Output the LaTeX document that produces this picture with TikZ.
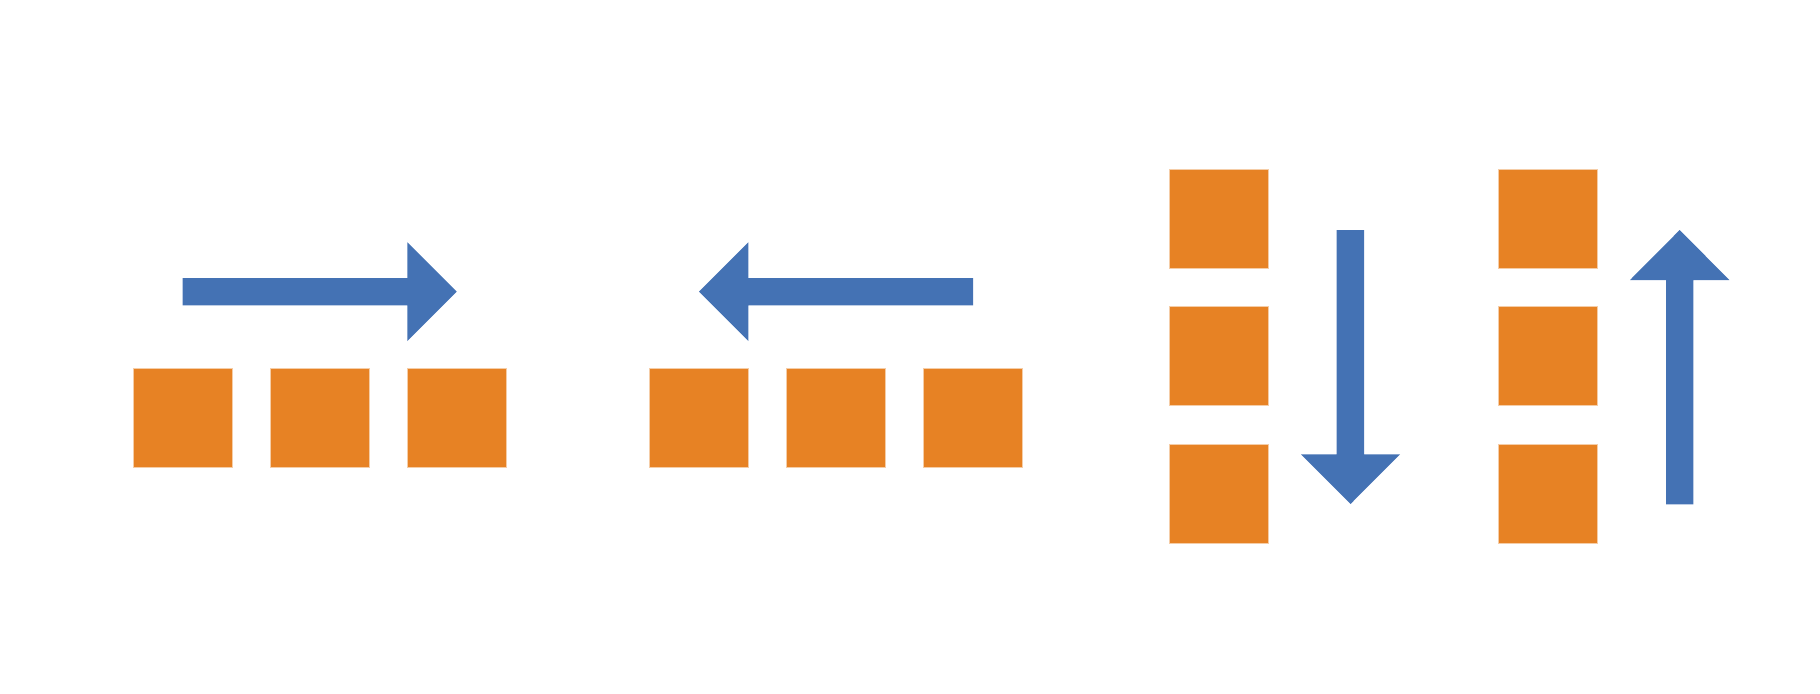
\documentclass[tikz,border=0pt]{standalone}
\begin{document}
\begin{tikzpicture}[x=0.01cm,y=-0.01cm,
  box/.style={fill=boxorange,draw=boxorange!40,line width=0.4pt,minimum size=0.99cm,inner sep=0pt,outer sep=0pt},
  blockarrow/.style={fill=arrowblue,draw=none}]
\definecolor{boxorange}{RGB}{231,130,36}
\definecolor{arrowblue}{RGB}{68,114,180}
\useasboundingbox (0,0) rectangle (1820,694);
% group 1
\node[box] (a1) at (183,418) {};
\node[box] (a2) at (320,418) {};
\node[box] (a3) at (457,418) {};
\fill[blockarrow] (182.7,278) -- (407.3,278) -- (407.3,242.3) -- (456.7,291.7) -- (407.3,341) -- (407.3,305.3) -- (182.7,305.3) -- cycle;
% group 2
\node[box] (b1) at (699,418) {};
\node[box] (b2) at (836,418) {};
\node[box] (b3) at (973,418) {};
\fill[blockarrow] (973,278) -- (748.3,278) -- (748.3,242.3) -- (699,291.7) -- (748.3,341) -- (748.3,305.3) -- (973,305.3) -- cycle;
% group 3
\node[box] (c1) at (1219,219) {};
\node[box] (c2) at (1219,356) {};
\node[box] (c3) at (1219,494) {};
\fill[blockarrow] (1336.7,230) -- (1364,230) -- (1364,454.3) -- (1400,454.3) -- (1350.5,504) -- (1301,454.3) -- (1336.7,454.3) -- cycle;
% group 4
\node[box] (d1) at (1548,219) {};
\node[box] (d2) at (1548,356) {};
\node[box] (d3) at (1548,494) {};
\fill[blockarrow] (1666,504.3) -- (1693.3,504.3) -- (1693.3,280) -- (1729.3,280) -- (1679.7,230) -- (1630,280) -- (1666,280) -- cycle;
\end{tikzpicture}
\end{document}
